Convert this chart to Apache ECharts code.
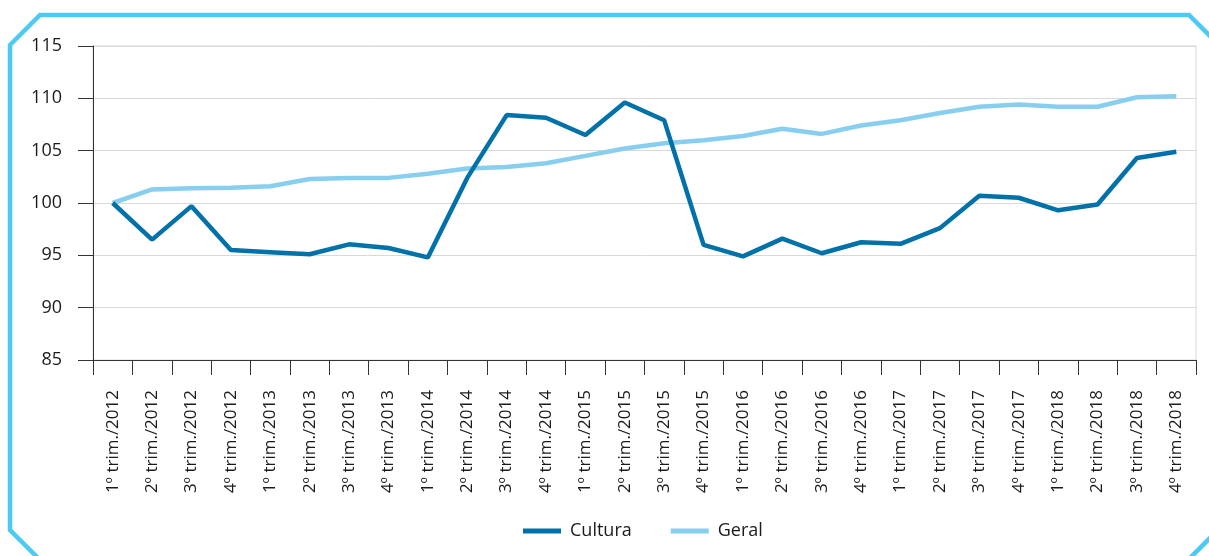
<!DOCTYPE html>
<html>
<head>
<meta charset="utf-8">
<script src="https://cdn.jsdelivr.net/npm/echarts@6/dist/echarts.min.js"></script>
<style>
html,body{margin:0;padding:0;background:#fff;}
#c{width:1209px;height:556px;}
</style>
</head>
<body>
<div id="c"></div>
<script>
const categories = [
  "1º trim./2012","2º trim./2012","3º trim./2012","4º trim./2012",
  "1º trim./2013","2º trim./2013","3º trim./2013","4º trim./2013",
  "1º trim./2014","2º trim./2014","3º trim./2014","4º trim./2014",
  "1º trim./2015","2º trim./2015","3º trim./2015","4º trim./2015",
  "1º trim./2016","2º trim./2016","3º trim./2016","4º trim./2016",
  "1º trim./2017","2º trim./2017","3º trim./2017","4º trim./2017",
  "1º trim./2018","2º trim./2018","3º trim./2018","4º trim./2018"
];
const cultura = [
  100.0, 96.5, 99.7, 95.5,
  95.3, 95.1, 96.05, 95.7,
  94.8, 102.4, 108.4, 108.15,
  106.5, 109.6, 107.9, 96.0,
  94.9, 96.6, 95.2, 96.25,
  96.1, 97.6, 100.7, 100.5,
  99.3, 99.85, 104.3, 104.9
];
const geral = [
  100.0, 101.3, 101.4, 101.45,
  101.6, 102.3, 102.4, 102.4,
  102.8, 103.3, 103.45, 103.8,
  104.5, 105.2, 105.7, 106.0,
  106.4, 107.1, 106.6, 107.4,
  107.9, 108.6, 109.2, 109.4,
  109.2, 109.2, 110.1, 110.2
];
const yTicks = {min: 85, max: 115, interval: 5};

const FONT = '"Open Sans", "Noto Sans", sans-serif';
const chart = echarts.init(document.getElementById('c'));
chart.setOption({
  animation: false,
  backgroundColor: '#fff',
  textStyle: {fontFamily: FONT, color: '#1a1a1a'},
  graphic: [{
    type: 'polygon',
    shape: {points: [[10,45],[40,15],[1189,15],[1225,51],[1225,523],[1178,570],[50,570],[10,530]]},
    style: {fill: 'none', stroke: '#4DC9F5', lineWidth: 4.5},
    silent: true,
    z: 0
  }],
  grid: {
    left: 93, right: 13, top: 46, bottom: 196,
    show: true, borderColor: '#d9d9d9', borderWidth: 1
  },
  legend: {
    data: ['Cultura', 'Geral'],
    left: 518, top: 517,
    icon: 'rect',
    itemWidth: 38, itemHeight: 5, itemGap: 39,
    textStyle: {fontFamily: FONT, fontSize: 18, color: '#1a1a1a', padding: [0,0,0,4]}
  },
  xAxis: {
    type: 'category',
    data: categories,
    boundaryGap: true,
    axisLine: {lineStyle: {color: '#333', width: 1}},
    axisTick: {show: true, length: 15, interval: 0, lineStyle: {color: '#333'}},
    axisLabel: {rotate: 90, interval: 0, margin: 30, fontSize: 17, fontFamily: FONT, color: '#1a1a1a'},
    splitLine: {show: false}
  },
  yAxis: {
    type: 'value',
    min: yTicks.min, max: yTicks.max, interval: yTicks.interval,
    axisLine: {show: true, lineStyle: {color: '#333', width: 1}},
    axisTick: {show: true, length: 15, lineStyle: {color: '#333'}},
    axisLabel: {margin: 31, fontSize: 18, fontFamily: FONT, color: '#1a1a1a'},
    splitLine: {show: true, lineStyle: {color: '#d9d9d9', width: 1}}
  },
  series: [
    {
      name: 'Cultura', type: 'line', data: cultura,
      symbol: 'none', z: 4,
      lineStyle: {color: '#0071A9', width: 4.5},
      itemStyle: {color: '#0071A9'}
    },
    {
      name: 'Geral', type: 'line', data: geral,
      symbol: 'none', z: 3,
      lineStyle: {color: '#88CEEE', width: 4.5},
      itemStyle: {color: '#88CEEE'}
    }
  ]
});
</script>
</body>
</html>
